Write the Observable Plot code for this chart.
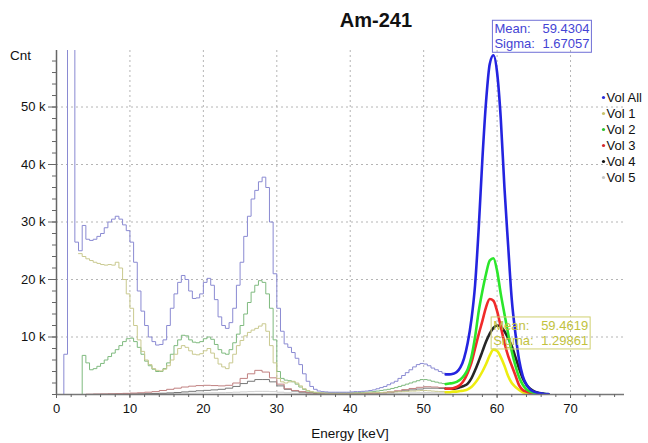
<!DOCTYPE html>
<html><head><meta charset="utf-8">
<script src="https://cdn.jsdelivr.net/npm/d3@7"></script>
<script src="https://cdn.jsdelivr.net/npm/@observablehq/plot@0.6"></script>
<style>body{margin:0;background:#fff} svg{font-family:"Liberation Sans",Arial,sans-serif}</style>
</head><body><div id="chart"></div>
<script>
// Energy grids (keV)
const energyLow = [0,0.5,1,1.5,2,2.5,3,3.5,4,4.5,5,5.5,6,6.5,7,7.5,8,8.5,9,9.5,10,10.5,11,11.5,12,12.5,13,13.5,14,14.5,15,15.5,16,16.5,17,17.5,18,18.5,19,19.5,20,20.5,21,21.5,22,22.5,23,23.5,24,24.5,25,25.5,26,26.5,27,27.5,28,28.5,29,29.5,30,30.5,31,31.5,32,32.5,33,33.5,34,34.5,35,35.5,36,36.5,37,37.5,38,38.5,39,39.5,40,40.5,41,41.5,42,42.5,43,43.5,44,44.5,45,45.5,46,46.5,47,47.5,48,48.5,49,49.5,50,50.5,51,51.5,52,52.5,53];
const energyCoarse = [3,4,5,6,7,8,9,10,11,12,13,14,15,16,17,18,19,20,21,22,23,24,25,26,27,28,29,30,31,32,33,34,35,36,37,38,39,40,41,42,43,44,45,46,47,48,49,50,51,52,53];
const energyPeak = [53,53.5,54,54.5,55,55.5,56,56.5,57,57.5,58,58.5,59,59.5,60,60.5,61,61.5,62,62.5,63,63.5,64,64.5,65,65.5,66,66.5,67];

// Counts (thousands)
const volAllLow = [0,0,7,100,100,26.5,25,29.4,27,26.8,
 27,27.5,28,29,30,30.5,31,30.5,29.5,28.5,
 26.5,23,18,14.5,12,10,9.2,8.6,8.7,9.5,
 12,15,17.5,19.5,20.7,20,18,16.7,16.8,17.5,
 19.5,20.2,19,16.5,13.5,12,11.5,12.5,15,19,
 23,27.5,31,34,35.5,37,37.8,36,30,21,
 15,11,8.8,8.2,7.3,6.3,5.2,3.6,2.3,1.4,
 0.9,0.6,0.5,0.45,0.4,0.4,0.4,0.4,0.4,0.4,
 0.45,0.5,0.5,0.55,0.6,0.7,0.8,1.0,1.2,1.4,
 1.7,2.0,2.3,2.8,3.3,3.8,4.3,4.8,5.2,5.4,
 5.3,5.0,4.6,4.3,4.0,3.7,3.5];
const vol1Low = [null,null,null,null,null,null,24.5,24.0,23.6,23.3,
 23.0,22.8,22.6,22.5,22.6,22.5,23.0,22.0,20.0,17.5,
 15.0,12.0,9.5,7.5,6.0,5.2,4.5,4.2,4.1,4.4,
 5.0,6.0,7.0,8.0,8.5,8.2,7.6,7.0,6.9,7.1,
 7.6,8.0,7.2,6.3,5.3,4.8,4.5,5.5,7.0,8.5,
 9.4,10.2,10.8,11.2,11.5,11.9,12.3,11.0,8.5,5.5,
 2.8,2.2,2.0,2.2,2.3,2.0,1.5,1.0,0.7,0.5,
 0.4,0.3,0.3,0.25,0.25,0.25,0.25,0.25,0.25,0.25,
 0.25,0.25,0.25,0.25,0.3,0.3,0.3,0.35,0.35,0.4,
 0.4,0.45,0.45,0.5,0.5,0.55,0.6,0.6,0.65,0.7,
 0.7,0.65,0.6,0.55,0.5,0.5,0.45];
const vol2Low = [null,null,null,null,null,null,0,6.8,5.5,4.3,
 4.5,4.9,5.4,6.0,6.6,7.2,7.8,8.5,9.2,9.7,
 9.8,9.2,8.2,7.0,5.8,5.0,4.4,4.0,4.0,4.5,
 5.5,7.0,8.5,9.5,10.3,10.2,9.5,9.1,9.0,9.2,
 9.7,10.0,9.6,8.7,7.8,7.2,7.0,7.8,9.0,10.5,
 12.0,14.0,16.0,17.8,19.0,19.8,19.5,17.5,15.0,9.5,
 4.0,2.8,2.5,2.4,2.2,1.8,1.3,0.9,0.6,0.45,
 0.35,0.3,0.3,0.3,0.3,0.3,0.3,0.3,0.3,0.3,
 0.3,0.32,0.35,0.38,0.4,0.45,0.5,0.6,0.7,0.8,
 0.9,1.05,1.2,1.4,1.6,1.8,2.0,2.2,2.4,2.6,
 2.6,2.5,2.3,2.15,2.0,1.9,1.8];
const vol3Low = [0,0.05,0.08,0.1,0.12,0.15,0.2,0.25,0.3,0.4,0.5,0.7,0.9,1.1,1.3,1.45,1.55,1.6,1.55,1.5,1.6,2.0,2.8,3.6,4.2,3.9,2.9,1.8,1.0,0.7,0.5,0.3,0.25,0.2,0.2,0.2,0.2,0.2,0.2,0.2,0.25,0.3,0.45,0.65,0.85,1.05,1.25,1.35,1.3,1.2,1.0];
const vol4Low = [0,0,0.02,0.03,0.05,0.06,0.08,0.1,0.12,0.15,0.18,0.22,0.28,0.35,0.45,0.55,0.65,0.72,0.8,0.9,1.1,1.4,1.9,2.3,2.6,2.6,2.2,1.5,0.9,0.6,0.4,0.3,0.2,0.15,0.15,0.15,0.15,0.15,0.15,0.2,0.25,0.3,0.4,0.5,0.65,0.8,0.95,1.1,1.1,1.05,1.0];
const vol5Low = [0,0.02,0.03,0.04,0.05,0.06,0.07,0.08,0.1,0.12,0.14,0.16,0.18,0.2,0.22,0.24,0.26,0.28,0.3,0.32,0.35,0.4,0.45,0.5,0.55,0.55,0.5,0.4,0.3,0.22,0.18,0.15,0.12,0.1,0.1,0.1,0.1,0.1,0.1,0.1,0.12,0.14,0.17,0.2,0.24,0.28,0.3,0.32,0.3,0.28,0.26];

const volAllPeak = [3.5,3.5,3.6,3.9,4.7,6.3,9,13,19,29,41,51,57.5,59,56,48,36,26,16.5,10.6,6,3.2,1.7,0.9,0.5,0.3,0.2,0.1,0.1];
const vol1Peak = [0.4,0.4,0.5,0.5,0.6,0.7,0.9,1.3,2.0,2.9,4.0,5.3,6.8,7.8,7.6,6.5,5.0,3.2,2.0,1.3,0.8,0.4,0.2,0.1,0.1,0.05,0.05,0.05,0.05];
const vol2Peak = [1.8,1.9,2.0,2.2,2.6,3.3,4.4,6.5,10,14.5,18,21,23.3,23.7,21.5,17.5,14,10.6,7.5,5.0,3.0,1.7,0.9,0.5,0.3,0.2,0.1,0.1,0.05];
const vol3Peak = [1.0,1.0,1.1,1.3,1.7,2.5,3.8,5.5,8,10.5,12.8,15.2,16.6,16.3,14.5,11.8,9,6.7,5,3.3,1.6,0.8,0.5,0.3,0.2,0.1,0.1,0.05,0.05];
const vol4Peak = [1.0,1.0,1.0,1.1,1.3,1.5,1.9,2.8,4.2,5.8,7.5,9.2,10.6,11.6,12,11.8,11,9.8,8.4,6.5,4.5,2.8,1.7,1.0,0.6,0.35,0.2,0.1,0.05];

const seriesNames = ["Vol All","Vol 1","Vol 2","Vol 3","Vol 4","Vol 5"];
const legendColors = ["#2b2bd6","#c9c36a","#2fc02f","#d42a2a","#111111","#c4c4c4"];
const fits = [
  {mean: 59.4304, sigma: 1.67057, color: "#4444d4", border: "#6f6fd6"},
  {mean: 59.4619, sigma: 1.29861, color: "#c2c23e", border: "#d0d070"}
];

const xMajor = [0,10,20,30,40,50,60,70];
const xMinor = [0,2,4,6,8,10,12,14,16,18,20,22,24,26,28,30,32,34,36,38,40,42,44,46,48,50,52,54,56,58,60,62,64,66,68,70,72,74,76];
const yMajor = [10,20,30,40,50];
const yMinor = [0,2,4,6,8,10,12,14,16,18,20,22,24,26,28,30,32,34,36,38,40,42,44,46,48,50,52,54,56,58];

const toRows = (E, vals) => E.map((e, i) => ({E: e, v: vals[i]})).filter(d => d.v != null);

const lowLines = [
  {E: energyCoarse, v: vol5Low, c: "#cdcdcd"},
  {E: energyCoarse, v: vol4Low, c: "#777777"},
  {E: energyCoarse, v: vol3Low, c: "#c08080"},
  {E: energyLow, v: vol2Low, c: "#7fba7f"},
  {E: energyLow, v: vol1Low, c: "#c9c98f"},
  {E: energyLow, v: volAllLow, c: "#8a8ad2"}
];
const peakLines = [
  {v: vol1Peak, c: "#eded10"},
  {v: vol4Peak, c: "#262626"},
  {v: vol3Peak, c: "#f02a2a"},
  {v: vol2Peak, c: "#2be62b"},
  {v: volAllPeak, c: "#2424e0"}
];

const grid = {stroke: "#b5b5b5", strokeOpacity: 1, strokeDasharray: "2,3"};

const plot = Plot.plot({
  width: 648, height: 443,
  marginLeft: 56, marginRight: 24, marginTop: 50, marginBottom: 49,
  style: {fontFamily: "Liberation Sans, Arial, sans-serif", fontSize: "13px", color: "#111", background: "#fff"},
  x: {domain: [0, 77.35], label: null},
  y: {domain: [0, 59.83], label: null},
  marks: [
    Plot.gridX(xMajor.filter(d => d > 0), grid),
    Plot.gridY(yMajor, grid),
    ...lowLines.map(s => Plot.line(toRows(s.E, s.v), {x: "E", y: "v", stroke: s.c, strokeWidth: 1, curve: "step-after", clip: true})),
    ...peakLines.map(s => Plot.line(toRows(energyPeak, s.v), {x: "E", y: "v", stroke: s.c, strokeWidth: 2.6, curve: "monotone-x", clip: true})),
    Plot.ruleX([0], {stroke: "#666", strokeWidth: 1.5}),
    Plot.ruleY([0], {stroke: "#777", strokeWidth: 1.5}),
    Plot.axisY(yMajor, {tickSize: 8, tickPadding: 3, tickFormat: d => `${d} k`, label: null, stroke: "#666", fill: "#111"}),
    Plot.axisY(yMinor, {tickSize: 4, tickFormat: () => "", label: null, stroke: "#666"}),
    Plot.axisX(xMajor, {tickSize: 4, tickPadding: 5, label: null, stroke: "#666", fill: "#111"}),
    Plot.axisX(xMinor, {tickSize: 3, tickFormat: () => "", label: null, stroke: "#666"})
  ]
});
document.getElementById("chart").appendChild(plot);

const svg = d3.select(plot);
const sx = plot.scale("x"), sy = plot.scale("y");
const font = "Liberation Sans, Arial, sans-serif";

svg.append("text").attr("x", 376).attr("y", 27).attr("text-anchor", "middle")
  .attr("font-family", font).attr("font-size", 20).attr("font-weight", "bold").attr("fill", "#111").text("Am-241");
svg.append("text").attr("x", 10).attr("y", 60).attr("text-anchor", "start").attr("font-family", font).attr("font-size", 13.5).attr("fill", "#111").text("Cnt");
svg.append("text").attr("x", (sx.apply(0) + sx.apply(77.35)) / 2 + 10).attr("y", 438).attr("text-anchor", "middle")
  .attr("font-family", font).attr("font-size", 13.5).attr("fill", "#111").text("Energy [keV]");

// legend
const lg = svg.append("g").attr("font-family", font).attr("font-size", 13).attr("fill", "#111").attr("text-anchor", "start");
seriesNames.forEach((n, i) => {
  const y = 97.5 + i * 16;
  lg.append("circle").attr("cx", 603.5).attr("cy", y).attr("r", 1.6).attr("fill", legendColors[i]);
  lg.append("text").attr("x", 606.5).attr("y", y + 4.5).attr("text-anchor", "start").text(n);
});

// fit annotation boxes
const peakMax = d3.max(volAllPeak);
const boxes = [
  {x0: sx.apply(fits[0].mean), y0: sy.apply(peakMax) - 34.5},
  {x0: sx.apply(fits[1].mean) - 1.5, y0: sy.apply(13.4)}
];
fits.forEach((f, i) => {
  const b = boxes[i];
  const g = svg.append("g").attr("font-family", font).attr("font-size", 13).attr("fill", f.color).attr("text-anchor", "start");
  g.append("rect").attr("x", b.x0).attr("y", b.y0).attr("width", 99).attr("height", 32)
    .attr("fill", "none").attr("stroke", f.border).attr("stroke-width", 1);
  g.append("text").attr("x", b.x0 + 2).attr("y", b.y0 + 13).text("Mean:");
  g.append("text").attr("x", b.x0 + 97).attr("y", b.y0 + 13).attr("text-anchor", "end").text(f.mean.toFixed(4));
  g.append("text").attr("x", b.x0 + 2).attr("y", b.y0 + 28).text("Sigma:");
  g.append("text").attr("x", b.x0 + 97).attr("y", b.y0 + 28).attr("text-anchor", "end").text(f.sigma.toFixed(5));
});
</script>
</body></html>
